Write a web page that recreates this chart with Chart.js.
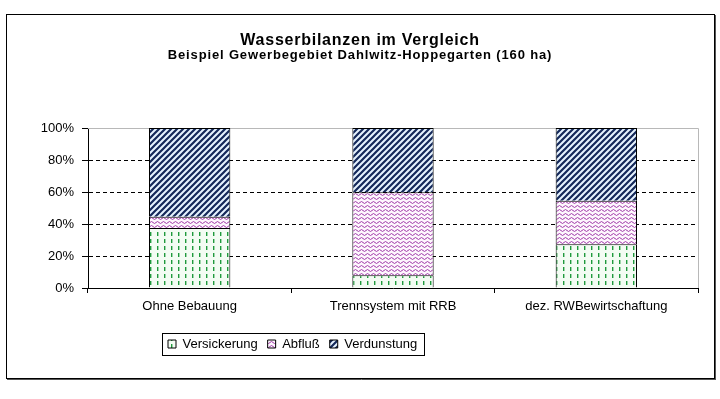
<!DOCTYPE html>
<html>
<head>
<meta charset="utf-8">
<title>Wasserbilanzen im Vergleich</title>
<script src="https://cdn.jsdelivr.net/npm/chart.js@4/dist/chart.umd.min.js"></script>
<style>
  html, body { margin: 0; padding: 0; background: #fff; }
  canvas { display: block; }
</style>
</head>
<body>
<canvas id="bilanz" width="720" height="399"></canvas>
<script>
// -- data (percent of annual water balance) --
const categories   = ['Ohne Bebauung', 'Trennsystem mit RRB', 'dez. RWBewirtschaftung'];
const versickerung = [37.5, 8, 27.3];
const abfluss      = [7.1, 51.8, 27.3];
const verdunstung  = [55.4, 40.2, 45.4];
const yTicks       = [0, 20, 40, 60, 80, 100];

const FONT = '"Liberation Sans", Arial, sans-serif';

// -- hatch patterns like the old Excel fills --
function makePattern(w, h, paint) {
  const c = document.createElement('canvas');
  c.width = w; c.height = h;
  const g = c.getContext('2d');
  paint(g, w, h);
  return g.createPattern(c, 'repeat');
}

const ctx = document.getElementById('bilanz').getContext('2d');

const patDashes = makePattern(7, 7, (g) => {
  g.fillStyle = '#f3fcf3';
  g.fillRect(0, 0, 7, 7);
  g.fillStyle = '#1f9a3c';
  g.fillRect(3, 1, 1.4, 4);
});

const patWaves = makePattern(6, 4, (g) => {
  g.fillStyle = '#fdf6fd';
  g.fillRect(0, 0, 6, 4);
  g.strokeStyle = '#a03aa8';
  g.lineWidth = 1;
  g.beginPath();
  g.moveTo(0, 2.5);
  g.quadraticCurveTo(1.5, 0.5, 3, 2.5);
  g.quadraticCurveTo(4.5, 4.5, 6, 2.5);
  g.stroke();
});

const patStripes = makePattern(6, 6, (g) => {
  g.fillStyle = '#e6f3ff';
  g.fillRect(0, 0, 6, 6);
  g.strokeStyle = '#14285a';
  g.lineWidth = 2.2;
  g.beginPath();
  g.moveTo(-1, 7); g.lineTo(7, -1);
  g.moveTo(-1, 1); g.lineTo(1, -1);
  g.moveTo(5, 7); g.lineTo(7, 5);
  g.stroke();
});

// -- frame around the whole chart + grey plot area edges --
const framePlugin = {
  id: 'frame',
  beforeDraw(chart) {
    const c = chart.ctx;
    c.save();
    c.fillStyle = '#fff';
    c.fillRect(0, 0, chart.width, chart.height);
    c.strokeStyle = '#000';
    c.lineWidth = 1;
    c.strokeRect(6.5, 14.5, 708, 364);
    c.strokeStyle = '#555';
    c.beginPath();
    c.moveTo(715.5, 15); c.lineTo(715.5, 380);
    c.moveTo(7, 379.5); c.lineTo(716, 379.5);
    c.stroke();
    c.restore();
  },
  beforeDatasetsDraw(chart) {
    const a = chart.chartArea;
    const c = chart.ctx;
    c.save();
    c.strokeStyle = '#b8b8b8';
    c.lineWidth = 1;
    c.beginPath();
    c.moveTo(a.left, Math.round(a.top) + 0.5);
    c.lineTo(Math.round(a.right) + 0.5, Math.round(a.top) + 0.5);
    c.lineTo(Math.round(a.right) + 0.5, a.bottom);
    c.stroke();
    c.restore();
  }
};

// -- the old Excel title text is spaced out; widen title + subtitle a bit --
const spacingPlugin = {
  id: 'titleSpacing',
  afterLayout(chart) {
    chart.boxes.forEach((b) => {
      if (b._spaced || !b.options || typeof b.options.text !== 'string') return;
      const spacing = b.options.font.size >= 16 ? '0.75px' : '0.85px';
      const orig = b.draw.bind(b);
      b.draw = (area) => {
        b.ctx.save();
        b.ctx.letterSpacing = spacing;
        orig(area);
        b.ctx.restore();
      };
      b._spaced = true;
    });
  }
};

// -- legend sits in its own bordered box, left of centre --
const legendBoxPlugin = {
  id: 'legendBox',
  afterLayout(chart) {
    const lg = chart.legend;
    const w = lg.width, h = lg.height;
    lg.left = 158; lg.right = lg.left + w;
    lg.top = 327.5; lg.bottom = lg.top + h;
    lg.adjustHitBoxes();
  },
  afterDraw(chart) {
    const lg = chart.legend;
    const c = chart.ctx;
    const x = Math.round(lg.left + 4) + 0.5;
    const w = Math.round(lg.lineWidths[0] + 3);
    c.save();
    c.strokeStyle = '#000';
    c.lineWidth = 1;
    c.strokeRect(x, 333.5, w, 22);
    c.restore();
  }
};

const common = {
  borderColor: '#000',
  borderWidth: 1,
  barPercentage: 0.4,
  categoryPercentage: 1.0,
};

new Chart(ctx, {
  type: 'bar',
  data: {
    labels: categories,
    datasets: [
      { label: 'Versickerung', data: versickerung, backgroundColor: patDashes, ...common },
      { label: 'Abfluß',       data: abfluss,      backgroundColor: patWaves,  ...common },
      { label: 'Verdunstung',  data: verdunstung,  backgroundColor: patStripes, ...common },
    ],
  },
  plugins: [framePlugin, spacingPlugin, legendBoxPlugin],
  options: {
    responsive: false,
    animation: false,
    layout: { padding: { left: 22, right: 22, top: 0, bottom: 50 } },
    plugins: {
      title: {
        display: true,
        text: 'Wasserbilanzen im Vergleich',
        color: '#000',
        font: { family: FONT, size: 16, weight: 'bold', lineHeight: 1 },
        padding: { top: 33, bottom: 0 },
      },
      subtitle: {
        display: true,
        text: 'Beispiel Gewerbegebiet Dahlwitz-Hoppegarten (160 ha)',
        color: '#000',
        font: { family: FONT, size: 13, weight: 'bold', lineHeight: 1 },
        padding: { top: 0, bottom: 66 },
      },
      legend: {
        display: true,
        position: 'bottom',
        align: 'start',
        labels: {
          color: '#000',
          font: { family: FONT, size: 13 },
          boxWidth: 8,
          boxHeight: 8,
          padding: 10,
        },
      },
      tooltip: { enabled: false },
    },
    scales: {
      x: {
        stacked: true,
        afterFit: (s) => { s.height = 28; },
        ticks: { color: '#000', font: { family: FONT, size: 13 }, padding: 6, maxRotation: 0 },
        grid: { drawOnChartArea: false, color: '#000', tickLength: 5, offset: true },
        border: { color: '#000', width: 1 },
      },
      y: {
        stacked: true,
        min: yTicks[0],
        max: yTicks[yTicks.length - 1],
        afterFit: (s) => { s.width = 66; },
        afterBuildTicks: (s) => { s.ticks = yTicks.map(v => ({ value: v })); },
        ticks: {
          color: '#000',
          font: { family: FONT, size: 13 },
          padding: 8,
          callback: (v) => v + '%',
        },
        grid: {
          color: (c) => (c.tick && (c.tick.value === 0 || c.tick.value === 100)) ? 'rgba(0,0,0,0)' : '#000',
          tickColor: '#000',
          tickLength: 6,
          tickBorderDash: [],
          lineWidth: 1,
        },
        border: { color: '#000', width: 1, dash: [4, 3] },
      },
    },
  },
});
</script>
</body>
</html>
